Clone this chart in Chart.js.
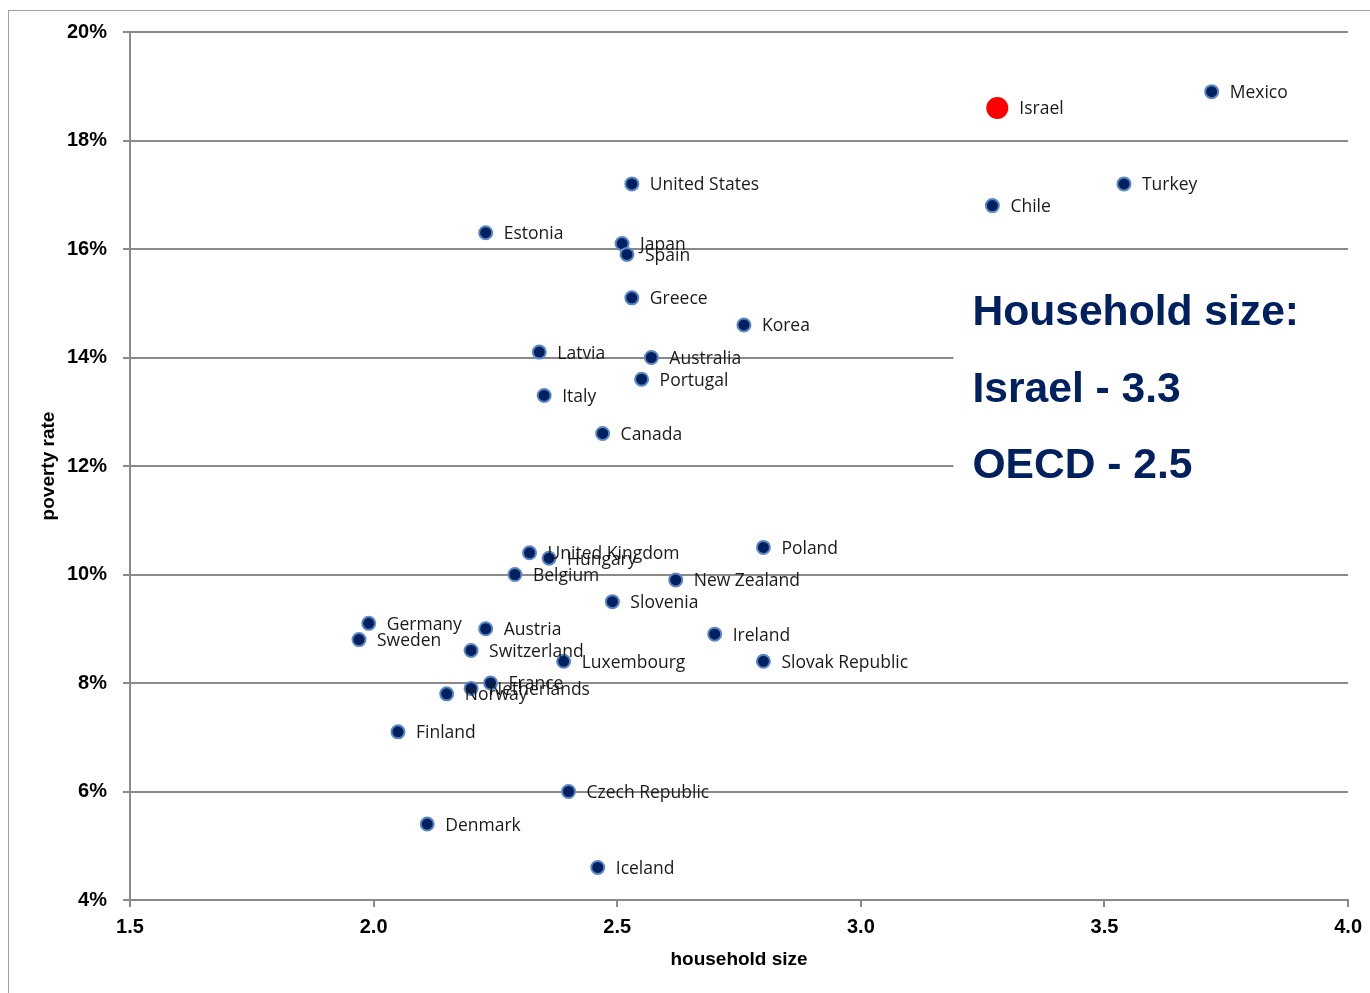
<!DOCTYPE html>
<html>
<head>
<meta charset="utf-8">
<script src="https://cdn.jsdelivr.net/npm/chart.js@4/dist/chart.umd.min.js"></script>
<style>
  html, body { margin: 0; padding: 0; background: #fff; }
  canvas { display: block; }
</style>
</head>
<body>
<canvas id="povertyChart" width="1370" height="993"></canvas>
<script>
// Data
const countries = [
  "Israel", "Mexico", "United States", "Turkey", "Chile", "Estonia", "Japan", "Spain",
  "Greece", "Korea", "Latvia", "Australia", "Portugal", "Italy", "Canada",
  "United Kingdom", "Hungary", "Poland", "Belgium", "New Zealand", "Slovenia",
  "Germany", "Austria", "Sweden", "Ireland", "Switzerland", "Luxembourg",
  "Slovak Republic", "France", "Netherlands", "Norway", "Finland",
  "Czech Republic", "Denmark", "Iceland"
];
const householdSize = [
  3.28, 3.72, 2.53, 3.54, 3.27, 2.23, 2.51, 2.52,
  2.53, 2.76, 2.34, 2.57, 2.55, 2.35, 2.47,
  2.32, 2.36, 2.80, 2.29, 2.62, 2.49,
  1.99, 2.23, 1.97, 2.70, 2.20, 2.39,
  2.80, 2.24, 2.20, 2.15, 2.05,
  2.40, 2.11, 2.46
];
const povertyRate = [
  18.6, 18.9, 17.2, 17.2, 16.8, 16.3, 16.1, 15.9,
  15.1, 14.6, 14.1, 14.0, 13.6, 13.3, 12.6,
  10.4, 10.3, 10.5, 10.0, 9.9, 9.5,
  9.1, 9.0, 8.8, 8.9, 8.6, 8.4,
  8.4, 8.0, 7.9, 7.8, 7.1,
  6.0, 5.4, 4.6
];
const highlight = "Israel";
const xTicks = [1.5, 2.0, 2.5, 3.0, 3.5, 4.0];
const noteLines = ["Household size:", "Israel - 3.3", "OECD - 2.5"];

const NAVY = "#002060";
const GRID = "#8a8a8a";

const points = countries.map((c, i) => ({ x: householdSize[i], y: povertyRate[i], name: c }));
const isHi = ctx => points[ctx.dataIndex] && points[ctx.dataIndex].name === highlight;

// outer frame like the pasted Excel chart
const framePlugin = {
  id: "frame",
  beforeDraw(chart) {
    const ctx = chart.ctx;
    ctx.save();
    ctx.fillStyle = "#fff";
    ctx.fillRect(0, 0, chart.width, chart.height);
    ctx.strokeStyle = "#a0a0a0";
    ctx.lineWidth = 1;
    ctx.strokeRect(8.5, 10.5, chart.width + 10, chart.height + 10);
    ctx.restore();
  }
};

// white text box on the right that hides part of the grid
const notePlugin = {
  id: "note",
  beforeDatasetsDraw(chart) {
    const { ctx, scales: { x, y } } = chart;
    const left = x.getPixelForValue(3.19);
    const top = y.getPixelForValue(15.6);
    const bottom = y.getPixelForValue(11.3);
    ctx.save();
    ctx.fillStyle = "#fff";
    ctx.fillRect(left, top, chart.width - left, bottom - top);
    ctx.fillStyle = NAVY;
    ctx.font = "bold 42.6px 'Liberation Sans', Arial, sans-serif";
    ctx.textBaseline = "alphabetic";
    ctx.textAlign = "left";
    const tx = left + 19;
    noteLines.forEach((t, i) => {
      ctx.fillText(t, tx, y.getPixelForValue(14.65) + 3 + i * 76.5);
    });
    ctx.restore();
  }
};

// country names next to the points
const labelPlugin = {
  id: "pointLabels",
  afterDatasetsDraw(chart) {
    const ctx = chart.ctx;
    const meta = chart.getDatasetMeta(0);
    ctx.save();
    ctx.font = "17.5px 'Open Sans', sans-serif";
    ctx.fillStyle = "#1a1a1a";
    ctx.textBaseline = "middle";
    ctx.textAlign = "left";
    meta.data.forEach((pt, i) => {
      const off = countries[i] === highlight ? 22 : 18;
      ctx.fillText(countries[i], pt.x + off, pt.y + 1.5);
    });
    ctx.restore();
  }
};

new Chart(document.getElementById("povertyChart"), {
  type: "scatter",
  data: {
    datasets: [{
      data: points,
      pointRadius: ctx => isHi(ctx) ? 11 : 6.5,
      pointBackgroundColor: ctx => isHi(ctx) ? "#ff0000" : NAVY,
      pointBorderColor: ctx => isHi(ctx) ? "#ff0000" : "#5b86c5",
      pointBorderWidth: ctx => isHi(ctx) ? 0 : 2,
      pointHoverRadius: 6.5
    }]
  },
  options: {
    responsive: false,
    animation: false,
    layout: { padding: { top: 32, right: 21, left: 0, bottom: 0 } },
    plugins: {
      legend: { display: false },
      tooltip: { enabled: false }
    },
    scales: {
      x: {
        type: "linear",
        min: 1.5,
        max: 4.0,
        afterBuildTicks: s => { s.ticks = xTicks.map(v => ({ value: v })); },
        afterFit: s => { s.height = 93; },
        border: { color: GRID, width: 2 },
        grid: { drawOnChartArea: false, drawTicks: true, tickLength: 7, color: GRID, lineWidth: 2 },
        ticks: {
          padding: 8,
          color: "#000",
          font: { family: "'Liberation Sans', Arial, sans-serif", size: 20, weight: "bold" },
          callback: v => Number(v).toFixed(1)
        },
        title: {
          display: true,
          text: "household size",
          color: "#000",
          padding: { top: 0, bottom: 22 },
          font: { family: "'Liberation Sans', Arial, sans-serif", size: 19, weight: "bold" }
        }
      },
      y: {
        min: 4,
        max: 20,
        afterFit: s => { s.width = 130; },
        border: { color: GRID, width: 2 },
        grid: { color: GRID, lineWidth: 2, tickLength: 7 },
        ticks: {
          stepSize: 2,
          padding: 16,
          color: "#000",
          font: { family: "'Liberation Sans', Arial, sans-serif", size: 20, weight: "bold" },
          callback: v => v + "%"
        },
        title: {
          display: true,
          text: "poverty rate",
          color: "#000",
          padding: { top: 37, bottom: 0 },
          font: { family: "'Liberation Sans', Arial, sans-serif", size: 19, weight: "bold" }
        }
      }
    }
  },
  plugins: [framePlugin, notePlugin, labelPlugin]
});
</script>
</body>
</html>
